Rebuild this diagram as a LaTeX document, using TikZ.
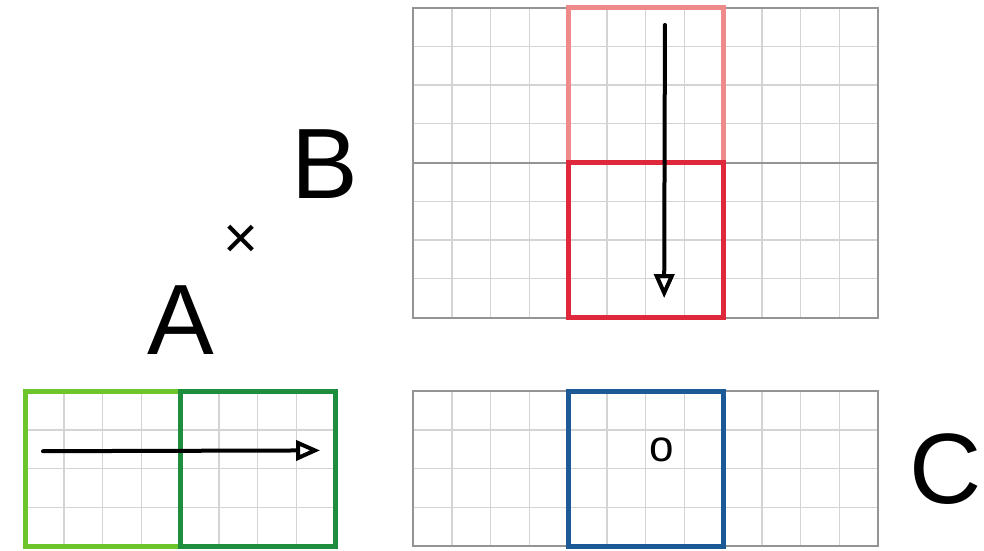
\documentclass[tikz,border=0pt]{standalone}
\usepackage{fontspec}
\setmainfont{Liberation Sans}
\usetikzlibrary{arrows.meta}
\definecolor{limegreen}{HTML}{6CC52A}
\definecolor{deepgreen}{HTML}{1E8E3E}
\definecolor{palered}{HTML}{EE8A8A}
\definecolor{deepred}{HTML}{E0283C}
\definecolor{deepblue}{HTML}{1B5A96}

\begin{document}
\begin{tikzpicture}[x=19.375pt,y=19.375pt,
  cellgrid/.style={draw=black!17, line width=0.7pt},
  frame/.style={draw=black!42, line width=1pt},
  block/.style={line width=2.5pt},
  move/.style={line width=2pt, line cap=round, -{Triangle[open,length=12pt,width=10pt]}},
  letter/.style={font=\fontsize{50}{50}\selectfont, inner sep=0pt}]
\useasboundingbox (0,0) rectangle (25.394,14.194);
\draw[cellgrid, shift={(10.66,6)}] (0,0) grid[step=1] (12,8);
\draw[frame] (10.66,6) rectangle (22.66,14);
\draw[frame] (10.66,10) -- (22.66,10);
\draw[cellgrid, shift={(0.65,0.1)}] (0,0) grid[step=1] (8,4);
\draw[cellgrid, shift={(10.66,0.1)}] (0,0) grid[step=1] (12,4);
\draw[frame] (10.66,0.1) rectangle (22.66,4.1);
\draw[block, draw=palered] (14.66,10) rectangle (18.66,14);
\draw[block, draw=deepred] (14.66,6) rectangle (18.66,10);
\draw[block, draw=limegreen] (0.65,0.1) rectangle (4.65,4.1);
\draw[block, draw=deepgreen] (4.65,0.1) rectangle (8.65,4.1);
\draw[block, draw=deepblue] (14.66,0.1) rectangle (18.66,4.1);
\coordinate (bstart) at (17.16,13.55);
\coordinate (bend) at (17.14,6.5);
\draw[move] (bstart) -- (bend);
\coordinate (astart) at (1.11,2.55);
\coordinate (aend) at (8.26,2.57);
\draw[move] (astart) -- (aend);
\node[font=\fontsize{22}{22}\selectfont, inner sep=0pt] (corig) at (17.08,2.58) {o};
\node[letter] (lblA) at (4.67,5.94) {A};
\node[letter] (lblB) at (8.39,9.97) {B};
\node[letter] (lblC) at (24.39,2.09) {C};
\node[font=\fontsize{30}{30}\selectfont, inner sep=0pt] (times) at (6.22,7.95) {×};
\end{tikzpicture}
\end{document}
